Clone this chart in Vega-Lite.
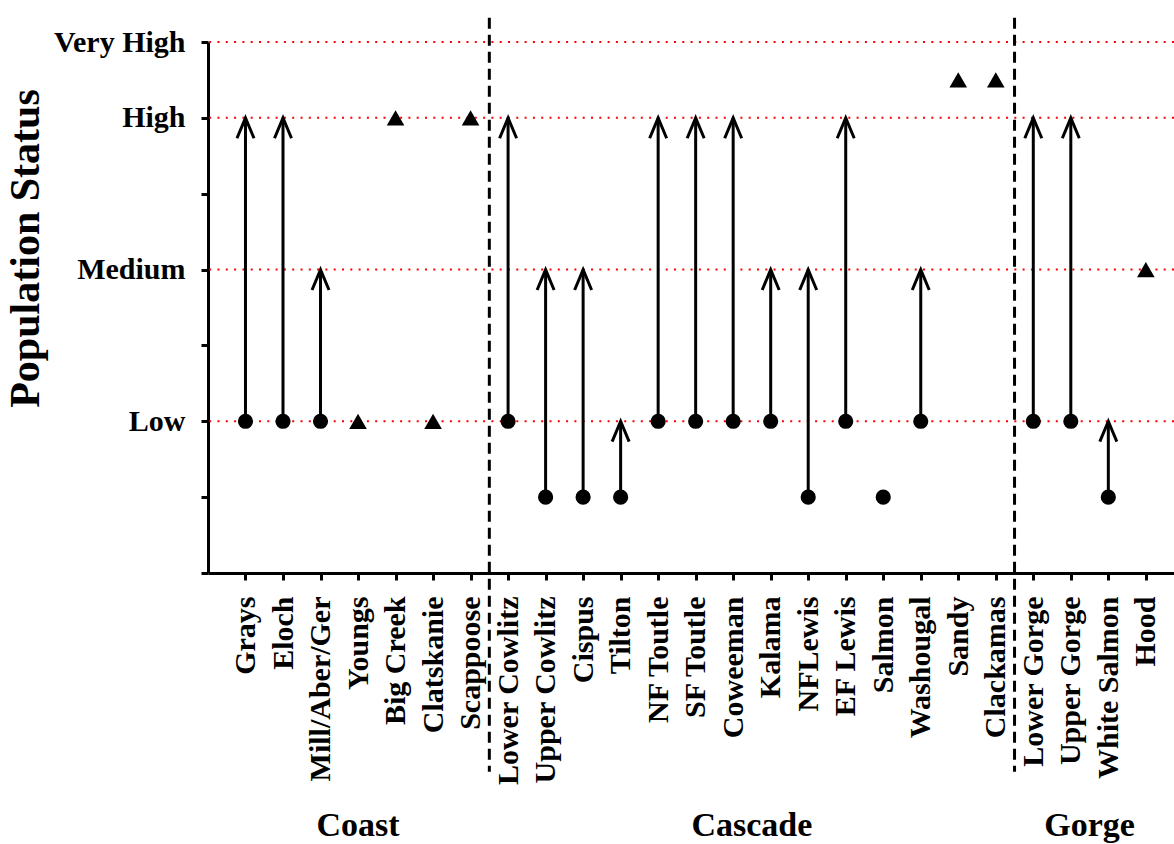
{
  "$schema": "https://vega.github.io/schema/vega-lite/v6.json",
  "autosize": {"type": "none"},
  "width": 966,
  "height": 531,
  "padding": {"left": 208, "top": 42, "right": 0, "bottom": 271},
  "background": "white",
  "config": {"font": "Liberation Serif", "view": {"stroke": null}},
  "datasets": {
    "pops": [
      {"pop": "Grays", "group": "Coast", "marker": "circle", "start": 2, "end": 6},
      {"pop": "Eloch", "group": "Coast", "marker": "circle", "start": 2, "end": 6},
      {"pop": "Mill/Aber/Ger", "group": "Coast", "marker": "circle", "start": 2, "end": 4},
      {"pop": "Youngs", "group": "Coast", "marker": "triangle", "start": 2, "end": null},
      {"pop": "Big Creek", "group": "Coast", "marker": "triangle", "start": 6, "end": null},
      {"pop": "Clatskanie", "group": "Coast", "marker": "triangle", "start": 2, "end": null},
      {"pop": "Scappoose", "group": "Coast", "marker": "triangle", "start": 6, "end": null},
      {"pop": "Lower Cowlitz", "group": "Cascade", "marker": "circle", "start": 2, "end": 6},
      {"pop": "Upper Cowlitz", "group": "Cascade", "marker": "circle", "start": 1, "end": 4},
      {"pop": "Cispus", "group": "Cascade", "marker": "circle", "start": 1, "end": 4},
      {"pop": "Tilton", "group": "Cascade", "marker": "circle", "start": 1, "end": 2},
      {"pop": "NF Toutle", "group": "Cascade", "marker": "circle", "start": 2, "end": 6},
      {"pop": "SF Toutle", "group": "Cascade", "marker": "circle", "start": 2, "end": 6},
      {"pop": "Coweeman", "group": "Cascade", "marker": "circle", "start": 2, "end": 6},
      {"pop": "Kalama", "group": "Cascade", "marker": "circle", "start": 2, "end": 4},
      {"pop": "NFLewis", "group": "Cascade", "marker": "circle", "start": 1, "end": 4},
      {"pop": "EF Lewis", "group": "Cascade", "marker": "circle", "start": 2, "end": 6},
      {"pop": "Salmon", "group": "Cascade", "marker": "circle", "start": 1, "end": null},
      {"pop": "Washougal", "group": "Cascade", "marker": "circle", "start": 2, "end": 4},
      {"pop": "Sandy", "group": "Cascade", "marker": "triangle", "start": 6.5, "end": null},
      {"pop": "Clackamas", "group": "Cascade", "marker": "triangle", "start": 6.5, "end": null},
      {"pop": "Lower Gorge", "group": "Gorge", "marker": "circle", "start": 2, "end": 6},
      {"pop": "Upper Gorge", "group": "Gorge", "marker": "circle", "start": 2, "end": 6},
      {"pop": "White Salmon", "group": "Gorge", "marker": "circle", "start": 1, "end": 2},
      {"pop": "Hood", "group": "Gorge", "marker": "triangle", "start": 4, "end": null}
    ],
    "levels": [{"level": 2}, {"level": 4}, {"level": 6}, {"level": 7}],
    "separators": [{"after": "Scappoose"}, {"after": "Clackamas"}],
    "groups1": [{"g": "Coast", "at": "Youngs"}],
    "groups2": [{"g": "Cascade", "at": "Coweeman"}, {"g": "Gorge", "at": "Upper Gorge"}]
  },
  "encoding": {
    "x": {
      "field": "pop",
      "type": "nominal",
      "scale": {
        "type": "point",
        "padding": 0.875,
        "align": 0.571,
        "domain": ["Grays", "Eloch", "Mill/Aber/Ger", "Youngs", "Big Creek", "Clatskanie", "Scappoose", "Lower Cowlitz", "Upper Cowlitz", "Cispus", "Tilton", "NF Toutle", "SF Toutle", "Coweeman", "Kalama", "NFLewis", "EF Lewis", "Salmon", "Washougal", "Sandy", "Clackamas", "Lower Gorge", "Upper Gorge", "White Salmon", "Hood"]
      },
      "axis": {
        "title": null,
        "labelAngle": -90,
        "labelAlign": "right",
        "labelBaseline": "middle",
        "labelFontSize": 30,
        "labelFontWeight": "bold",
        "labelColor": "black",
        "labelPadding": 16,
        "labelLimit": 0,
        "tickSize": 7,
        "tickWidth": 3,
        "tickColor": "black",
        "domainWidth": 3,
        "domainColor": "black",
        "grid": false,
        "labelOverlap": false
      }
    }
  },
  "layer": [
    {
      "data": {"name": "levels"},
      "mark": {"type": "rule", "color": "#ff0000", "strokeWidth": 2, "strokeDash": [2, 6.3]},
      "encoding": {
        "x": null,
        "y": {
          "field": "level",
          "type": "quantitative",
          "scale": {"domain": [0, 7], "nice": false, "zero": false},
          "axis": {
            "values": [0, 1, 2, 3, 4, 5, 6, 7],
            "labelExpr": "datum.value == 2 ? 'Low' : datum.value == 4 ? 'Medium' : datum.value == 6 ? 'High' : datum.value == 7 ? 'Very High' : ''",
            "title": "Population Status",
            "titleFontSize": 42,
            "titleFontWeight": "bold",
            "titleColor": "black",
            "titleX": -183,
            "titleY": 206,
            "titleAngle": -90,
            "titleAlign": "center",
            "titleBaseline": "middle",
            "titleLimit": 0,
            "labelFontSize": 30,
            "labelFontWeight": "bold",
            "labelColor": "black",
            "labelPadding": 16,
            "labelLimit": 0,
            "tickSize": 7,
            "tickWidth": 3,
            "tickColor": "black",
            "domainWidth": 3,
            "domainColor": "black",
            "grid": false
          }
        }
      }
    },
    {
      "data": {"name": "pops"},
      "transform": [{"filter": "datum.end != null"}],
      "mark": {"type": "rule", "color": "black", "strokeWidth": 3},
      "encoding": {
        "y": {"field": "start", "type": "quantitative"},
        "y2": {"field": "end"}
      }
    },
    {
      "data": {"name": "pops"},
      "transform": [{"filter": "datum.end != null"}],
      "mark": {"type": "point", "shape": "M-1,2.4L0,0L1,2.4", "filled": false, "stroke": "black", "strokeWidth": 3, "size": 289, "opacity": 1},
      "encoding": {
        "y": {"field": "end", "type": "quantitative"}
      }
    },
    {
      "data": {"name": "pops"},
      "transform": [{"filter": "datum.marker == 'circle'"}],
      "mark": {"type": "point", "shape": "circle", "filled": true, "color": "black", "size": 230, "opacity": 1},
      "encoding": {
        "y": {"field": "start", "type": "quantitative"}
      }
    },
    {
      "data": {"name": "pops"},
      "transform": [{"filter": "datum.marker == 'triangle'"}],
      "mark": {"type": "point", "shape": "triangle-up", "filled": true, "color": "black", "size": 310, "opacity": 1},
      "encoding": {
        "y": {"field": "start", "type": "quantitative"}
      }
    },
    {
      "data": {"name": "separators"},
      "mark": {"type": "rule", "color": "black", "strokeWidth": 3, "strokeDash": [11, 6], "xOffset": 18.76},
      "encoding": {
        "x": {"field": "after", "type": "nominal"},
        "y": {"datum": 7.32, "type": "quantitative"},
        "y2": {"datum": -2.62}
      }
    },
    {
      "data": {"name": "groups1"},
      "mark": {"type": "text", "fontSize": 34, "fontWeight": "bold", "color": "black", "align": "center", "baseline": "middle"},
      "encoding": {
        "x": {"field": "at", "type": "nominal"},
        "y": {"datum": -3.33, "type": "quantitative"},
        "text": {"field": "g"}
      }
    },
    {
      "data": {"name": "groups2"},
      "mark": {"type": "text", "fontSize": 34, "fontWeight": "bold", "color": "black", "align": "center", "baseline": "middle", "dx": 18.76},
      "encoding": {
        "x": {"field": "at", "type": "nominal"},
        "y": {"datum": -3.33, "type": "quantitative"},
        "text": {"field": "g"}
      }
    }
  ]
}
